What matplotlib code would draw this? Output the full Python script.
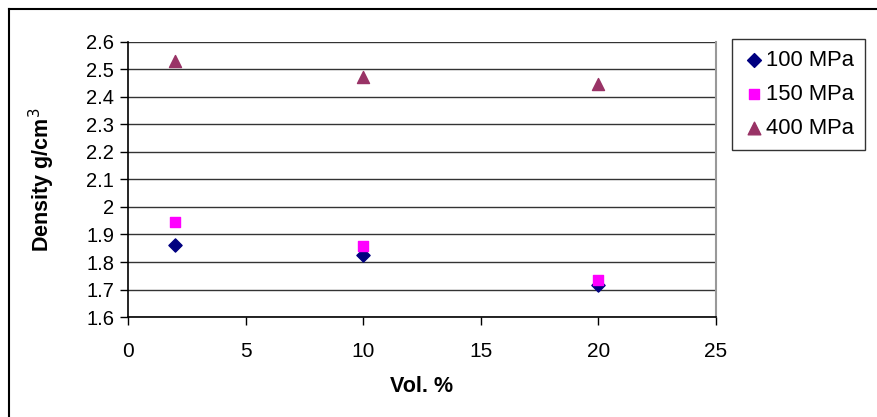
import matplotlib.pyplot as plt
from matplotlib.lines import Line2D

# Density vs. volume fraction at three compaction pressures
vol = [2, 10, 20]
d100 = [1.862, 1.825, 1.716]
d150 = [1.945, 1.858, 1.735]
d400 = [2.531, 2.473, 2.447]

y_ticks = [1.6, 1.7, 1.8, 1.9, 2.0, 2.1, 2.2, 2.3, 2.4, 2.5, 2.6]
y_labels = ['1.6', '1.7', '1.8', '1.9', '2', '2.1', '2.2', '2.3', '2.4', '2.5', '2.6']
x_ticks = [0, 5, 10, 15, 20, 25]

plt.rcParams['font.family'] = ['Liberation Sans', 'DejaVu Sans']

fig = plt.figure(figsize=(8.78, 4.17), dpi=100)
ax = fig.add_axes([0.1458, 0.2398, 0.6697, 0.6595])

ax.scatter(vol, d100, marker='D', s=45, color='#000080', label='100 MPa', zorder=3)
ax.scatter(vol, d150, marker='s', s=55, color='#FF00FF', label='150 MPa', zorder=3)
ax.scatter(vol, d400, marker='^', s=75, color='#993366', label='400 MPa', zorder=3)

ax.set_xlim(0, 25)
ax.set_ylim(1.6, 2.6)
ax.set_xticks(x_ticks)
ax.set_yticks(y_ticks)
ax.set_yticklabels(y_labels)
ax.grid(axis='y', color='#333333', linewidth=1)
ax.set_axisbelow(True)

for s in ['left', 'bottom']:
    ax.spines[s].set_color('black')
    ax.spines[s].set_linewidth(1.2)
ax.spines['top'].set_visible(False)
ax.spines['right'].set_color('#999999')
ax.spines['right'].set_linewidth(1.5)
ax.tick_params(axis='y', direction='out', length=6, width=1, labelsize=14.5, pad=4)
ax.tick_params(axis='x', direction='out', length=6, width=1, labelsize=15, pad=12)

ax.set_xlabel('Vol. %', fontsize=15.5, fontweight='bold')
ax.xaxis.set_label_coords(0.5, -0.215)
ax.set_ylabel('Density g/cm$^3$', fontsize=15.5, fontweight='bold')
ax.yaxis.set_label_coords(-0.12, 0.5)

leg = ax.legend(loc='upper left', bbox_to_anchor=(1.028, 1.01), fontsize=15.8,
                frameon=True, fancybox=False, edgecolor='black', handletextpad=0.05,
                handlelength=1.0, borderpad=0.5, labelspacing=0.58, borderaxespad=0,
                markerscale=1.05)
leg.get_frame().set_linewidth(1)

# outer chart frame
fig.add_artist(Line2D([0.0103, 0.0103], [0, 0.978], color='black', linewidth=1.5,
                      transform=fig.transFigure))
fig.add_artist(Line2D([0.0103, 1.0], [0.978, 0.978], color='black', linewidth=1.5,
                      transform=fig.transFigure))

fig.savefig('out.png', dpi=100)
